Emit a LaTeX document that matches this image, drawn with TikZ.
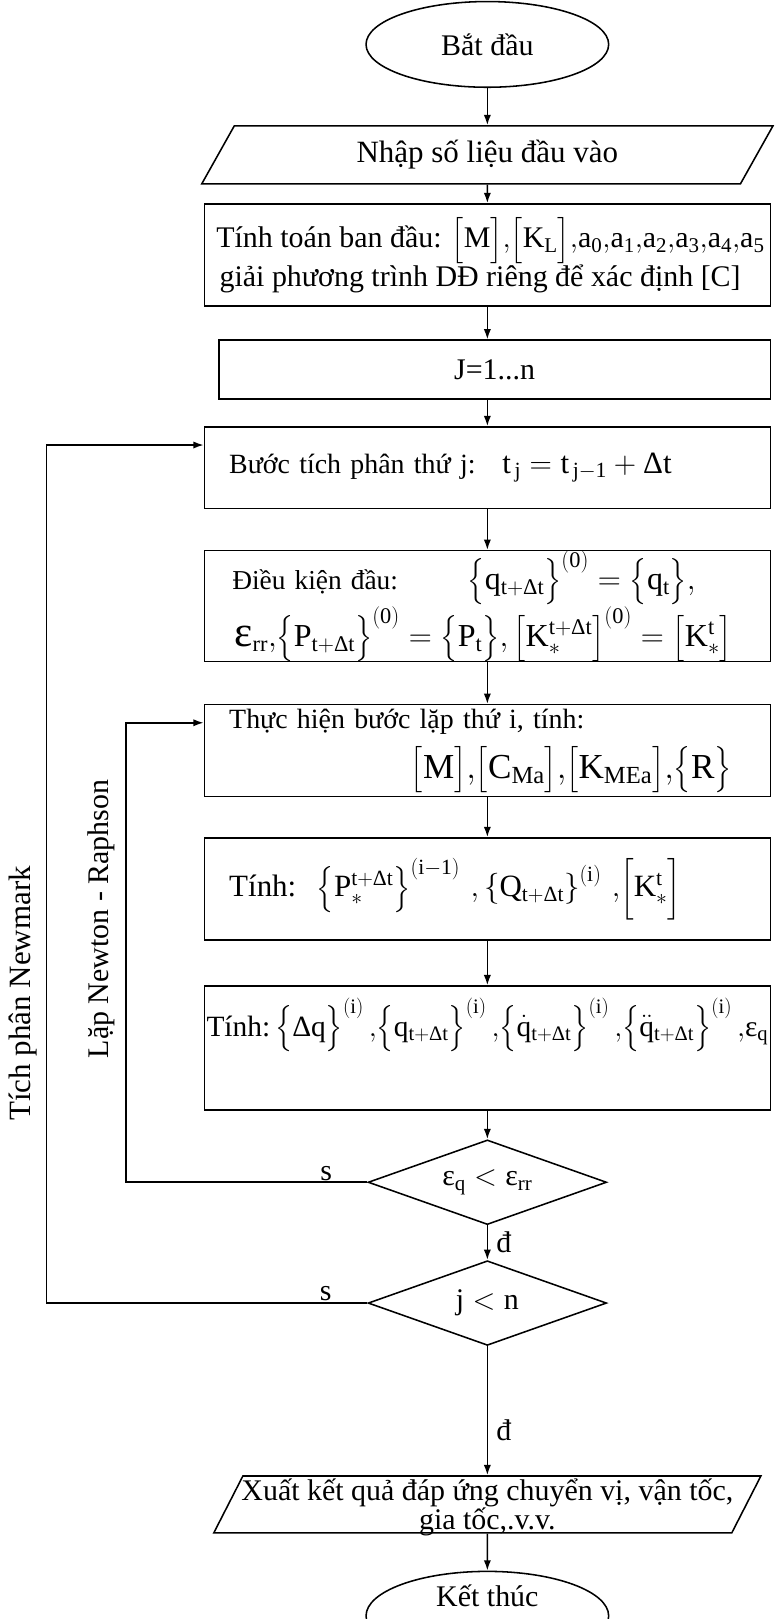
\RequirePackage{fix-cm}
\documentclass[tikz,border=0pt]{standalone}
\usepackage{amsmath}
\usepackage{fontspec}
\setmainfont{Liberation Serif}
\usepackage{tikz}
\usetikzlibrary{arrows.meta,shapes.geometric}

\begin{document}
\begin{tikzpicture}[x=1pt,y=-1pt]

\tikzset{every node/.style = {font=\fontsize{29}{35}\selectfont}}
\tikzset{block/.style = {shape=rectangle,draw,line width=1.5pt,minimum width=548pt,inner sep=0pt,align=center}}
\tikzset{term/.style = {shape=ellipse,draw,line width=1.5pt,minimum width=235pt,minimum height=83pt,inner sep=0pt}}
\tikzset{io/.style = {trapezium,trapezium left angle=60,trapezium right angle=120,trapezium stretches=true,draw,line width=1.5pt,inner sep=0pt}}
\tikzset{test/.style = {diamond,draw,line width=1.5pt,minimum width=231pt,minimum height=82pt,inner sep=0pt,aspect=2.8}}
\tikzset{edge/.style = {->,> = {Latex[length=10pt,width=7pt]},line width=1.5pt}}

\useasboundingbox (0,0) rectangle (750,1568);
\clip (0,0) rectangle (750,1568);

\node[term] (start) at (472,43) {Bắt đầu};
\node[io,minimum width=554pt,minimum height=56pt,font=\fontsize{30}{35}\selectfont] (nhap) at (472,150) {Nhập số liệu đầu vào};
\node[block,minimum height=99pt,font=\fontsize{29}{35}\selectfont] (init) at (472,247)
  {\hspace*{6pt}Tính toán ban đầu: $\bigl[\mathrm{M}\bigr]{,}\bigl[\mathrm{K_L}\bigr]{,}\mathrm{a_0{,}a_1{,}a_2{,}a_3{,}a_4{,}a_5}$\\
   giải phương trình DĐ riêng để xác định [C]\hspace*{14pt}};
\node[block,minimum width=534pt,minimum height=57pt] (loopj) at (479,358) {J=1...n};
\node[block,minimum height=79pt,text width=500pt,align=left,font=\fontsize{27}{35}\selectfont] (buoc) at (472,453)
  {Bước tích phân thứ j:\hspace{26pt}{\fontsize{30}{35}\selectfont$\mathrm{t_{\,j}=t_{\,j-1}+\text{Δ}t}$}};
\node[block,minimum height=100pt,text width=518pt,align=left,font=\fontsize{26.5}{35}\selectfont] (dieukien) at (472,587)
  {\hspace*{12pt}\makebox[228pt][l]{Điều kiện đầu:}{\fontsize{31}{35}\selectfont$\bigl\{\mathrm{q_{t+\text{Δ}t}}\bigr\}^{\mathrm{(0)}}=\bigl\{\mathrm{q_t}\bigr\},$}\\[1pt]
   \hspace*{14pt}{\fontsize{31}{35}\selectfont$\text{\fontsize{42}{42}\selectfont ε}_{\mathrm{rr}}{,}\bigl\{\mathrm{P_{t+\text{Δ}t}}\bigr\}^{\mathrm{(0)}}=\bigl\{\mathrm{P_t}\bigr\}{,}\,\bigl[\mathrm{K_*^{t+\text{Δ}t}}\bigr]^{\mathrm{(0)}}=\bigl[\mathrm{K_*^{t}}\bigr]$}};
\node[block,minimum height=89pt,text width=500pt,align=left,font=\fontsize{27}{35}\selectfont] (thuchien) at (472,727)
  {Thực hiện bước lặp thứ i, tính:\\[11pt]
   \hspace*{176pt}{\fontsize{34}{40}\selectfont$\bigl[\mathrm{M}\bigr]{,}\bigl[\mathrm{C_{Ma}}\bigr]{,}\bigl[\mathrm{K_{MEa}}\bigr]{,}\bigl\{\mathrm{R}\bigr\}$}};
\node[block,minimum height=99pt,text width=500pt,align=left,font=\fontsize{30}{35}\selectfont] (tinhP) at (472,861)
  {Tính:\hspace{20pt}$\left\{\mathrm{P_*^{t+\text{Δ}t}}\right\}^{\mathrm{(i-1)}}\,{,}\left\{\mathrm{Q_{t+\text{Δ}t}}\right\}^{\mathrm{(i)}}\,{,}\Bigl[\mathrm{K_*^{t}}\Bigr]$};
\node[block,minimum height=120pt,text depth=60pt,font=\fontsize{28.5}{35}\selectfont] (tinhdq) at (472,1015)
  {Tính:\,$\bigl\{\text{Δ}\mathrm{q}\bigr\}^{\mathrm{(i)}}\,{,}\bigl\{\mathrm{q_{t+\text{Δ}t}}\bigr\}^{\mathrm{(i)}}\,{,}\bigl\{\dot{\mathrm{q}}_{\mathrm{t+\text{Δ}t}}\bigr\}^{\mathrm{(i)}}\,{,}\bigl\{\ddot{\mathrm{q}}_{\mathrm{t+\text{Δ}t}}\bigr\}^{\mathrm{(i)}}\,{,}\text{ε}_{\mathrm{q}}$};
\node[test] (dkq) at (472,1145) {$\text{ε}_{\mathrm{q}}<\text{ε}_{\mathrm{rr}}$};
\node[test] (dkj) at (472,1262) {$\mathrm{j<n}$};
\node[io,minimum width=534pt,minimum height=55pt,text depth=0pt,align=center,font=\fontsize{29}{28}\selectfont] (xuat) at (472,1457)
  {Xuất kết quả đáp ứng chuyển vị, vận tốc,\\gia tốc,.v.v.};
\node[term,minimum height=85pt,text depth=40pt] (end) at (472,1565) {Kết thúc};

\coordinate (nr) at (122,700);
\coordinate (nw) at (45,431);
\node[rotate=90,font=\fontsize{30}{35}\selectfont] (newmark) at (22,962) {Tích phân Newmark};
\node[rotate=90] (newton) at (98,890) {Lặp Newton - Raphson};

%edges
\draw[edge] (start) to (nhap);
\draw[edge] (nhap) to (init);
\draw[edge] (init) -- (init |- loopj.north);
\draw[edge] (init |- loopj.south) -- (buoc);
\draw[edge] (buoc) to (dieukien);
\draw[edge] (dieukien) to (thuchien);
\draw[edge] (thuchien) to (tinhP);
\draw[edge] (tinhP) to (tinhdq);
\draw[edge] (tinhdq) to (dkq);
\draw[edge] (dkq) -- node[right,inner sep=8pt] {đ} (dkj);
\draw[edge] (dkj) -- node[right,inner sep=8pt,pos=0.65] {đ} (xuat);
\draw[edge] (xuat) to (end);
\draw[edge] (dkq.west) -- node[pos=0.17,above,inner sep=1pt] {s} (dkq.west -| nr) -- (nr) -- (nr -| thuchien.west);
\draw[edge] (dkj.west) -- node[pos=0.13,above,inner sep=1pt] {s} (dkj.west -| nw) -- (nw) -- (nw -| buoc.west);
\end{tikzpicture}
\end{document}
